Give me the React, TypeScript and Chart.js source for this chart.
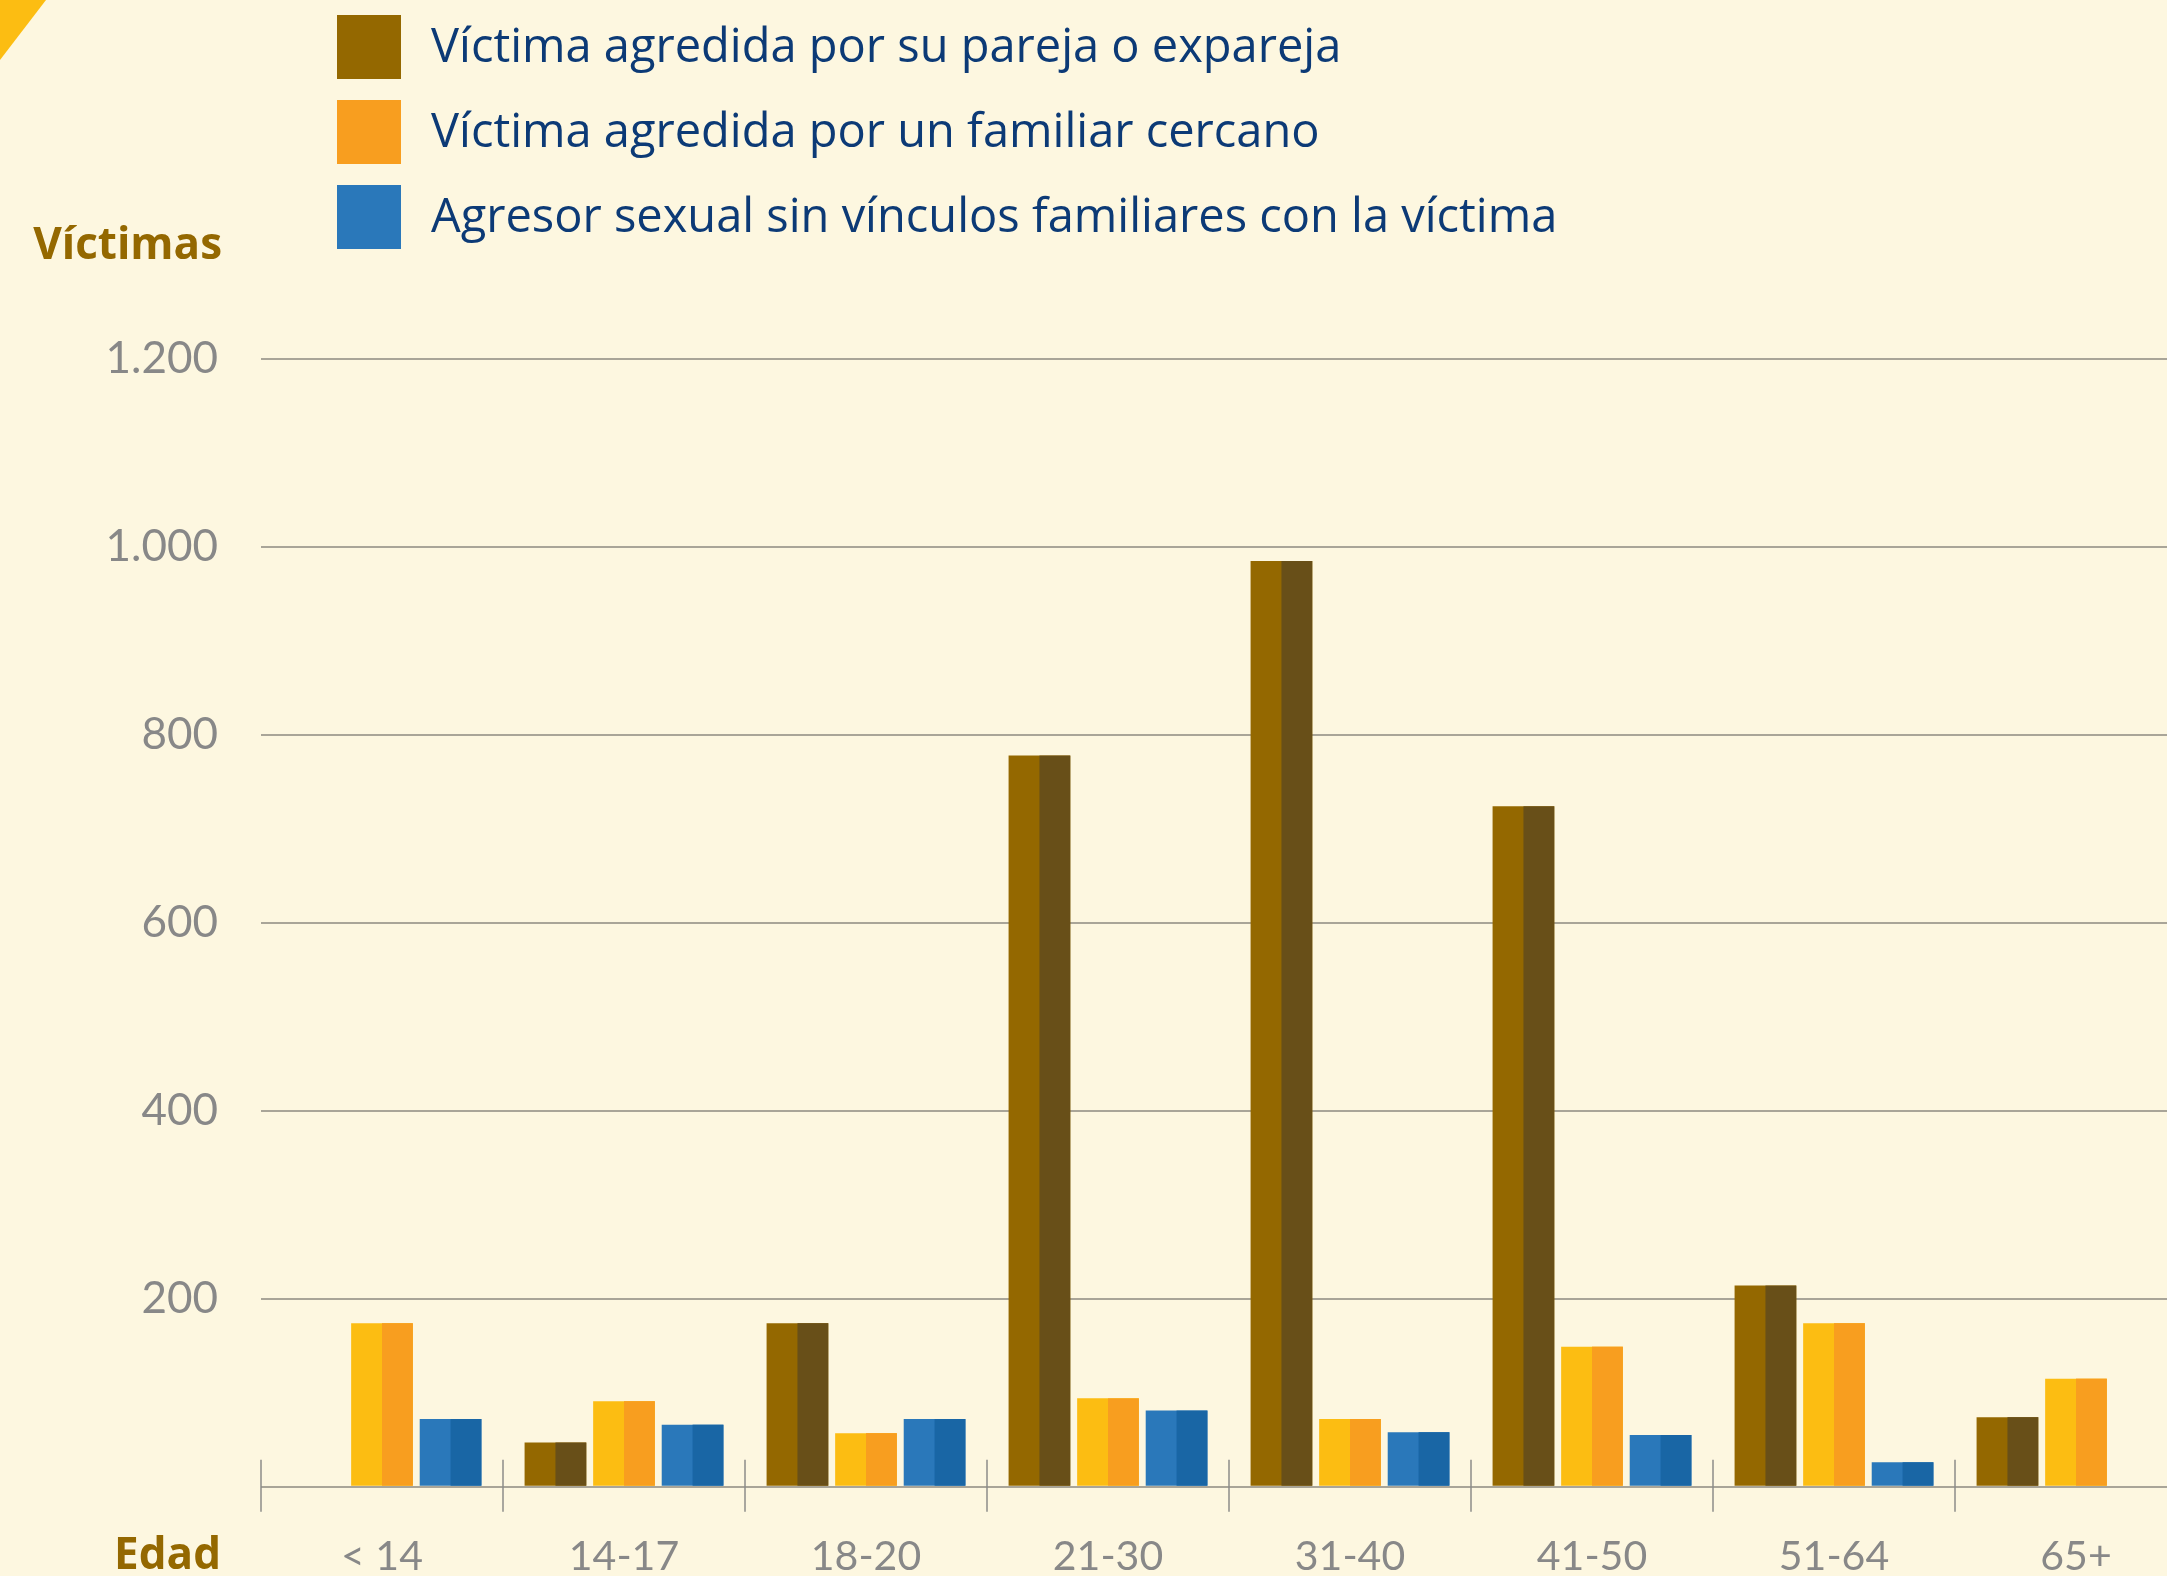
import React, { useEffect, useRef } from 'react';
import { Chart, registerables } from 'chart.js';

Chart.register(...registerables);

// ---------- data ----------
const categories = ['< 14', '14-17', '18-20', '21-30', '31-40', '41-50', '51-64', '65+'];
const seriesLabels = [
  'Víctima agredida por su pareja o expareja',
  'Víctima agredida por un familiar cercano',
  'Agresor sexual sin vínculos familiares con la víctima',
];
const parejaValues = [null, 47, 174, 778, 985, 724, 214, 74];
const familiarValues = [174, 91, 57, 94, 72, 149, 174, 115];
const sinVinculoValues = [72, 66, 72, 81, 58, 55, 26, null];
const yAxisTitle = 'Víctimas';
const xAxisTitle = 'Edad';

// ---------- styles ----------
const lightColors = ['#946800', '#fcbd12', '#2a78ba'];
const darkColors = ['#684f18', '#f89e1f', '#1966a5'];
const legendColors = ['#946800', '#f89e1f', '#2a78ba'];
const BG = '#fdf7e0';
const FONT = "Lato, 'Open Sans', sans-serif";
const TEXT_FONT = "'Open Sans', Lato, sans-serif";
const GRAY = '#888888';
const GRID = '#a9a598';

const formatThousands = (v: number) =>
  String(v).replace(/\B(?=(\d{3})+(?!\d))/g, '.');

const halfBarPlugin = {
  id: 'halfBar',
  afterDatasetsDraw(chart: any) {
    const ctx = chart.ctx;
    chart.data.datasets.forEach((ds: any, di: number) => {
      const meta = chart.getDatasetMeta(di);
      meta.data.forEach((bar: any) => {
        const p = bar.getProps(['x', 'y', 'base', 'width'], true);
        if (!isFinite(p.y) || !isFinite(p.x)) return;
        ctx.save();
        ctx.fillStyle = darkColors[di];
        const top = Math.min(p.y, p.base);
        const h = Math.abs(p.base - p.y);
        ctx.fillRect(p.x, top, p.width / 2, h);
        ctx.restore();
      });
    });
  },
};

const categoryTickPlugin = {
  id: 'categoryTicks',
  afterDraw(chart: any) {
    const xs = chart.scales.x;
    const bottom = chart.chartArea.bottom;
    const n = categories.length;
    const half = (xs.getPixelForValue(1) - xs.getPixelForValue(0)) / 2;
    const ctx = chart.ctx;
    ctx.save();
    ctx.strokeStyle = '#8c8c8a';
    ctx.lineWidth = 1.5;
    for (let i = 0; i <= n; i++) {
      const x = i < n ? xs.getPixelForValue(i) - half : xs.getPixelForValue(n - 1) + half;
      ctx.beginPath();
      ctx.moveTo(x, bottom - 27);
      ctx.lineTo(x, bottom + 25);
      ctx.stroke();
    }
    ctx.restore();
  },
};

export default function App() {
  const canvasRef = useRef<HTMLCanvasElement | null>(null);

  useEffect(() => {
    if (!canvasRef.current) return;
    const seriesValues = [parejaValues, familiarValues, sinVinculoValues];
    const chart = new Chart(canvasRef.current, {
      type: 'bar',
      data: {
        labels: categories,
        datasets: seriesValues.map((vals, i) => ({
          label: seriesLabels[i],
          data: vals,
          backgroundColor: lightColors[i],
          borderWidth: 0,
          categoryPercentage: 0.85,
          barPercentage: 0.9,
        })),
      },
      options: {
        responsive: false,
        animation: false,
        layout: { padding: { top: 359, right: 3, left: 0, bottom: 0 } },
        plugins: {
          legend: { display: false },
          tooltip: { enabled: false },
          title: { display: false },
        },
        scales: {
          x: {
            offset: true,
            grid: { display: false },
            border: { display: false },
            ticks: {
              color: GRAY,
              font: { family: FONT, size: 41, lineHeight: 1 },
              padding: 42,
              maxRotation: 0,
              autoSkip: false,
            },
            afterFit: (s: any) => {
              s.height = 89.3;
            },
          },
          y: {
            min: 0,
            max: 1200,
            ticks: {
              stepSize: 200,
              color: GRAY,
              font: { family: FONT, size: 44, lineHeight: 1 },
              padding: 43,
              callback: (v: any) => (Number(v) === 0 ? '' : formatThousands(Number(v))),
            },
            grid: { color: GRID, lineWidth: 2, drawTicks: false },
            border: { display: false },
            afterFit: (s: any) => {
              s.width = 261;
            },
          },
        },
      },
      plugins: [halfBarPlugin, categoryTickPlugin],
    } as any);
    return () => chart.destroy();
  }, []);

  return (
    <div
      style={{
        position: 'fixed',
        left: 0,
        top: 0,
        width: '100vw',
        height: '100vh',
        overflow: 'hidden',
        background: BG,
        fontFamily: TEXT_FONT,
      }}
    >
      <div
        style={{
          position: 'absolute',
          left: 0,
          top: 0,
          width: 46,
          height: 60,
          background: '#fcbd12',
          clipPath: 'polygon(0 0, 100% 0, 0 100%)',
        }}
      />
      <canvas
        ref={canvasRef}
        width={2200}
        height={1576}
        style={{ position: 'absolute', left: 0, top: 0, display: 'block' }}
      />
      {seriesLabels.map((lab, i) => (
        <React.Fragment key={lab}>
          <div
            style={{
              position: 'absolute',
              left: 337,
              top: 15 + i * 85,
              width: 64,
              height: 64,
              background: legendColors[i],
            }}
          />
          <div
            style={{
              position: 'absolute',
              left: 431,
              top: 21 + i * 85,
              fontSize: 47,
              lineHeight: '47px',
              color: '#0c3a76',
              whiteSpace: 'nowrap',
            }}
          >
            {lab}
          </div>
        </React.Fragment>
      ))}
      <div
        style={{
          position: 'absolute',
          left: 0,
          width: 222,
          top: 219,
          textAlign: 'right',
          fontSize: 44,
          lineHeight: '46px',
          fontWeight: 700,
          color: '#946800',
          whiteSpace: 'nowrap',
        }}
      >
        {yAxisTitle}
      </div>
      <div
        style={{
          position: 'absolute',
          left: 0,
          width: 221,
          top: 1529,
          textAlign: 'right',
          fontSize: 44,
          lineHeight: '46px',
          fontWeight: 700,
          color: '#946800',
          whiteSpace: 'nowrap',
        }}
      >
        {xAxisTitle}
      </div>
    </div>
  );
}
